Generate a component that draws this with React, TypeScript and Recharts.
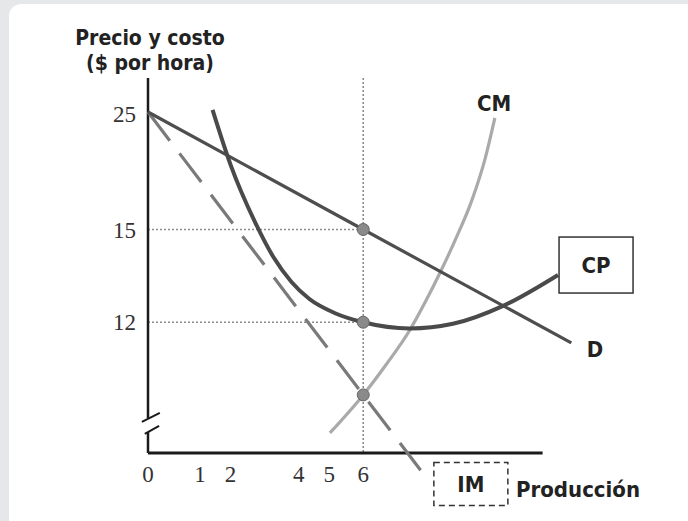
import { LineChart, Line, XAxis, YAxis, ReferenceLine, ReferenceDot } from 'recharts'

// coordinates are in chart units (the printed axis is broken / not to scale)
const xTickPos = [0, 1.45, 2.3, 4.2, 5.05, 6]
const xTickLabels = ['0', '1', '2', '4', '5', '6']
const yTickPos = [18.75, 15, 12]
const yTickLabels = ['25', '15', '12']

const demandX = [0, 6, 11.8]
const demandY = [18.8, 15, 11.33]

const imX = [0, 6, 7.6]
const imY = [18.8, 9.65, 7.21]

const cmX = [5.07, 6, 6.65, 7.3, 7.75, 8.14, 8.6, 9.03, 9.4, 9.67]
const cmY = [8.42, 9.65, 10.65, 11.75, 12.7, 13.6, 14.75, 15.95, 17.3, 18.61]

const cpX = [1.8, 2.3, 3.0, 3.5, 4.0, 4.5, 5.2, 6, 7.3, 8.5, 9.9, 11.43]
const cpY = [18.87, 17.1, 15.2, 14.1, 13.3, 12.75, 12.3, 12.0, 11.8, 11.95, 12.53, 13.53]

const optimumX = 6
const priceLevel = 15
const costLevel = 12
const mcLevel = 9.65

const X_MAX = 12.6
const Y_MIN = 6.8
const Y_MAX = 19.9
const X_AXIS_Y = 7.77
const X_AXIS_END = 11.0

const toPts = (xs: number[], ys: number[]) => xs.map((x, i) => ({ x, y: ys[i] }))

const demand = toPts(demandX, demandY)
const im = toPts(imX, imY)
const cm = toPts(cmX, cmY)
const cp = toPts(cpX, cpY)

const serif = '"Liberation Serif", "DejaVu Serif", serif'
const narrow = '"Liberation Sans Narrow", "DejaVu Sans Condensed", "Liberation Sans", sans-serif'

const XTick = (props: any) => {
  const { x, y, payload } = props
  const i = xTickPos.indexOf(payload.value)
  return (
    <text x={x} y={y - 1} textAnchor="middle" fontFamily={serif} fontSize={23} fill="#333">
      {xTickLabels[i]}
    </text>
  )
}

const label = (text: string, box?: 'solid' | 'dashed') => (props: any) => {
  const { cx, cy } = props
  const h = box === 'solid' ? 56 : 43
  return (
    <g>
      {box && (
        <rect
          x={cx - 37} y={cy - h / 2} width={74} height={h}
          fill="#fff" stroke="#333" strokeWidth={1.5}
          strokeDasharray={box === 'dashed' ? '6 4' : undefined}
        />
      )}
      <text x={cx} y={cy + 8} textAnchor="middle" fontFamily={narrow} fontWeight="bold" fontSize={22} fill="#222">
        {text}
      </text>
    </g>
  )
}

export default function App() {
  return (
    <div style={{ position: 'absolute', left: 0, top: 0, width: 688, height: 521, overflow: 'hidden', background: '#e6e7e9' }}>
      <div style={{ position: 'absolute', left: 9, top: 4, width: 700, height: 540, background: '#fff', borderRadius: 12 }} />
      <div style={{ position: 'absolute', left: 0, top: 0 }}>
        <LineChart width={688} height={521} margin={{ top: 78, right: 88, bottom: 0, left: 0 }}>
          <XAxis
            type="number" dataKey="x" domain={[0, X_MAX]} ticks={xTickPos}
            axisLine={false} tickLine={false} tickSize={0} tickMargin={0} height={38}
            tick={<XTick />} interval={0}
          />
          <YAxis
            type="number" dataKey="y" domain={[Y_MIN, Y_MAX]} ticks={yTickPos}
            tickFormatter={(v: number) => yTickLabels[yTickPos.indexOf(v)]}
            axisLine={false} tickLine={false} tickSize={6} tickMargin={6} width={148} interval={0}
            tick={{ fontFamily: serif, fontSize: 23, fill: '#333' }}
          />

          {/* guide lines */}
          <ReferenceLine segment={[{ x: optimumX, y: Y_MAX }, { x: optimumX, y: X_AXIS_Y }]} stroke="#8c8c8c" strokeWidth={1.6} strokeDasharray="2 2" ifOverflow="visible" />
          <ReferenceLine segment={[{ x: 0, y: priceLevel }, { x: optimumX, y: priceLevel }]} stroke="#8c8c8c" strokeWidth={1.6} strokeDasharray="2 2" ifOverflow="visible" />
          <ReferenceLine segment={[{ x: 0, y: costLevel }, { x: optimumX, y: costLevel }]} stroke="#8c8c8c" strokeWidth={1.6} strokeDasharray="2 2" ifOverflow="visible" />

          {/* axes with break */}
          <ReferenceLine segment={[{ x: 0, y: Y_MAX }, { x: 0, y: 8.9 }]} stroke="#1a1a1a" strokeWidth={2.5} ifOverflow="visible" />
          <ReferenceLine segment={[{ x: 0, y: 8.45 }, { x: 0, y: X_AXIS_Y }]} stroke="#1a1a1a" strokeWidth={2.5} ifOverflow="visible" />
          <ReferenceLine segment={[{ x: -0.17, y: 8.78 }, { x: 0.33, y: 9.07 }]} stroke="#1a1a1a" strokeWidth={2} ifOverflow="visible" />
          <ReferenceLine segment={[{ x: -0.09, y: 8.39 }, { x: 0.31, y: 8.65 }]} stroke="#1a1a1a" strokeWidth={2} ifOverflow="visible" />
          <ReferenceLine segment={[{ x: 0, y: X_AXIS_Y }, { x: X_AXIS_END, y: X_AXIS_Y }]} stroke="#1a1a1a" strokeWidth={3} ifOverflow="visible" />

          <Line data={im} dataKey="y" type="linear" stroke="#7a7a7a" strokeWidth={3.2} strokeDasharray="36 16" dot={false} isAnimationActive={false} />
          <Line data={cm} dataKey="y" type="monotone" stroke="#aaaaaa" strokeWidth={3.2} dot={false} isAnimationActive={false} />
          <Line data={demand} dataKey="y" type="linear" stroke="#4e4e4e" strokeWidth={3.2} dot={false} isAnimationActive={false} />
          <Line data={cp} dataKey="y" type="monotone" stroke="#4a4a4a" strokeWidth={4} dot={false} isAnimationActive={false} />

          <ReferenceDot x={optimumX} y={priceLevel} r={6} fill="#8a8a8a" stroke="#666" strokeWidth={1} ifOverflow="visible" />
          <ReferenceDot x={optimumX} y={costLevel} r={6} fill="#8a8a8a" stroke="#666" strokeWidth={1} ifOverflow="visible" />
          <ReferenceDot x={optimumX} y={mcLevel} r={6} fill="#8a8a8a" stroke="#666" strokeWidth={1} ifOverflow="visible" />

          {/* curve labels */}
          <ReferenceDot x={9.65} y={19.09} ifOverflow="visible" shape={label('CM')} />
          <ReferenceDot x={12.46} y={11.14} ifOverflow="visible" shape={label('D')} />
          <ReferenceDot x={12.49} y={13.85} ifOverflow="visible" shape={label('CP', 'solid')} />
          <ReferenceDot x={9.0} y={6.77} ifOverflow="visible" shape={label('IM', 'dashed')} />

          <text x={150} y={45} textAnchor="middle" fontFamily={narrow} fontWeight="bold" fontSize={21} fill="#222">Precio y costo</text>
          <text x={150} y={70} textAnchor="middle" fontFamily={narrow} fontWeight="bold" fontSize={21} fill="#222">($ por hora)</text>
          <text x={516} y={497} textAnchor="start" fontFamily={narrow} fontWeight="bold" fontSize={22} fill="#222">Producción</text>
        </LineChart>
      </div>
    </div>
  )
}
